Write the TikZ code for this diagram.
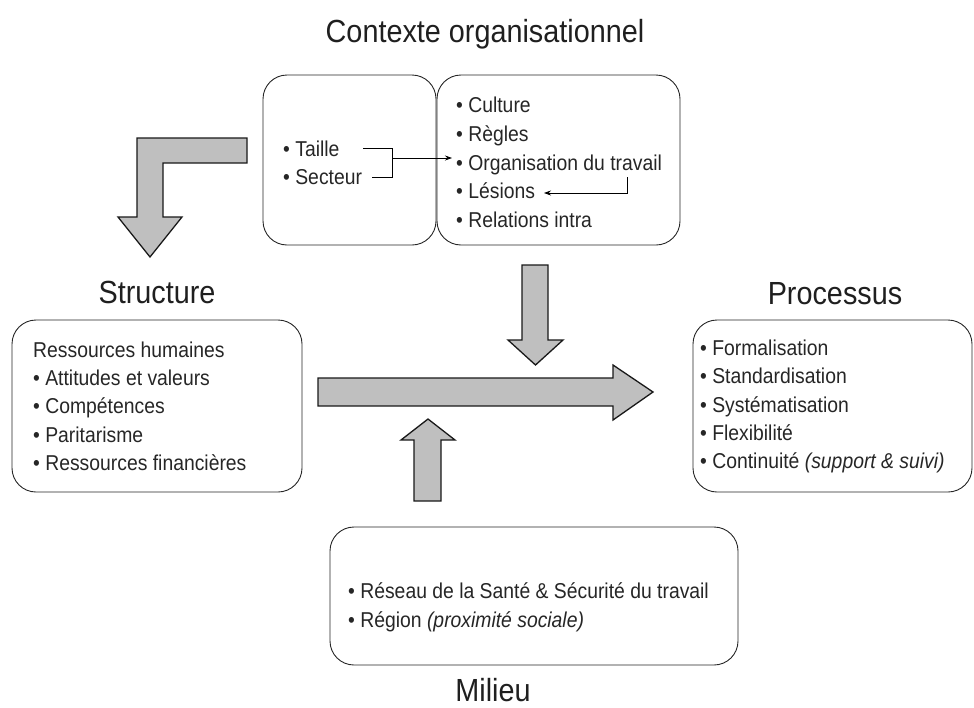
\documentclass[tikz,border=0pt]{standalone}
\usepackage{fontspec}
\setmainfont{Liberation Sans}[FakeStretch=0.9]
\usetikzlibrary{arrows.meta}
\begin{document}
\begin{tikzpicture}[x=1pt,y=-1pt,
  box/.style={draw=black!85, line width=0.9pt, rounded corners=24pt, inner sep=0pt},
  body/.style={anchor=base west, inner sep=0pt, font=\fontsize{21.5}{21.5}\selectfont, text=black!85},
  ttl/.style={anchor=base, inner sep=0pt, font=\fontsize{32}{32}\selectfont, text=black!88},
  bigarrow/.style={draw=black!90, line width=1.3pt, fill=black!25, line join=miter},
  thin/.style={draw=black, line width=0.8pt},
  tip/.style={-{Stealth[length=7pt,width=5pt]}}]
\useasboundingbox (0,0) rectangle (974,707);

% titles
\node[ttl] (tctx) at (485,42) {Contexte organisationnel};
\node[ttl] (tstr) at (157,303) {Structure};
\node[ttl] (tpro) at (835,304) {Processus};
\node[ttl] (tmil) at (493,701) {Milieu};

% boxes
\node[box, minimum width=173pt, minimum height=170pt] (ctxL) at (349.5,160) {};
\node[box, minimum width=243pt, minimum height=170pt] (ctxR) at (558.5,160) {};
\node[box, minimum width=290pt, minimum height=172pt] (str) at (157,406) {};
\node[box, minimum width=279pt, minimum height=172pt] (pro) at (832.5,406) {};
\node[box, minimum width=408pt, minimum height=138pt] (mil) at (534,596) {};

% contexte texts
\node[body] (taille) at (283,156) {• Taille};
\node[body] (secteur) at (283,184) {• Secteur};
\node[body] (culture) at (456,112) {• Culture};
\node[body] (regles) at (456,141) {• Règles};
\node[body] (orga) at (456,170) {• Organisation du travail};
\node[body] (lesions) at (456,198) {• Lésions};
\node[body] (relations) at (456,227) {• Relations intra};

% structure texts
\node[body] (rh) at (33,357) {Ressources humaines};
\node[body] (att) at (33,385) {• Attitudes et valeurs};
\node[body] (comp) at (33,413) {• Compétences};
\node[body] (pari) at (33,442) {• Paritarisme};
\node[body] (rf) at (33,470) {• Ressources financières};

% processus texts
\node[body] (form) at (700,355) {• Formalisation};
\node[body] (stand) at (700,383) {• Standardisation};
\node[body] (syst) at (700,412) {• Systématisation};
\node[body] (flex) at (700,440) {• Flexibilité};
\node[body] (cont) at (700,468) {• Continuité \textit{(support \& suivi)}};

% milieu texts
\node[body] (res) at (348,598) {• Réseau de la Santé \& Sécurité du travail};
\node[body] (reg) at (348,627) {• Région \textit{(proximité sociale)}};

% small connectors
\coordinate (ta) at (363,148);
\coordinate (se) at (372,177);
\coordinate (br) at (392,148);
\coordinate (brb) at (392,177);
\coordinate (brm) at (392,158);
\coordinate (og) at (452,158);
\draw[thin] (ta) -- (br) -- (brb) -- (se);
\draw[thin, tip] (brm) -- (og);
\coordinate (oe) at (627,177);
\coordinate (oc) at (627,193);
\coordinate (le) at (544,193);
\draw[thin, tip] (oe) -- (oc) -- (le);

% big arrows
\draw[bigarrow] (247,138) -- (137,138) -- (137,217) -- (118,217) -- (150,257) -- (182,217) -- (163,217) -- (163,163) -- (247,163) -- cycle;
\draw[bigarrow] (318,378) -- (613,378) -- (613,365) -- (653,392) -- (613,420) -- (613,406) -- (318,406) -- cycle;
\draw[bigarrow] (522,265) -- (548,265) -- (548,340) -- (563,340) -- (535.5,365) -- (508,340) -- (522,340) -- cycle;
\draw[bigarrow] (414,501) -- (441,501) -- (441,440) -- (455,440) -- (428,419) -- (401,440) -- (414,440) -- cycle;
\end{tikzpicture}
\end{document}
